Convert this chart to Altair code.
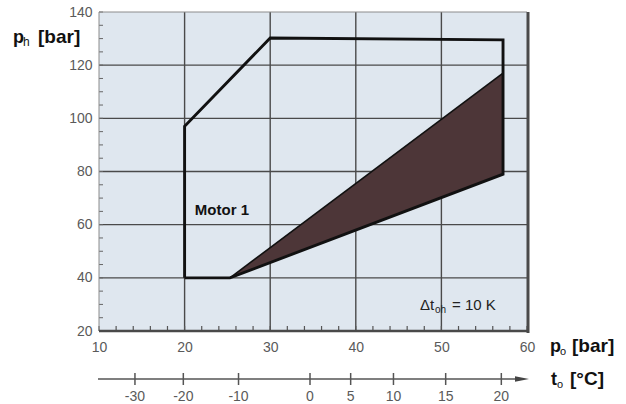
import altair as alt
import pandas as pd

# Operating envelope of Motor 1: suction pressure p_o vs. high pressure p_h (bar)
env_po = [20, 20, 30, 57.2, 57.2, 25.3, 20]
env_ph = [40, 97, 130.2, 129.5, 79, 40, 40]

# Shaded band (superheat 10 K): lower / upper high-pressure limits
band_po = [25.3, 57.2]
band_lo = [40, 79]
band_hi = [40, 117]

# Axes
x_major = [10, 20, 30, 40, 50, 60]
y_major = [20, 40, 60, 80, 100, 120, 140]
x_grid = [20, 30, 40, 50]
y_grid = [40, 60, 80, 100, 120]
x_minor = list(range(10, 61, 2))
y_minor = list(range(20, 141, 5))

# Evaporating temperature t_o (°C) and its position on the p_o scale
to_labels = ["-30", "-20", "-10", "0", "5", "10", "15", "20"]
to_po = [14.2, 19.85, 26.3, 34.65, 39.4, 44.4, 50.5, 57.0]

W, H = 428, 319
FONT = "Liberation Sans"
GRID = "#4a4a4a"
LABEL = "#5a5a5a"

xs = alt.Scale(domain=[10, 60], nice=False, zero=False)
ys = alt.Scale(domain=[20, 140], nice=False, zero=False)
xaxis = alt.Axis(values=x_major, grid=False, domain=False, ticks=False,
                 labelFont=FONT, labelFontSize=14, labelColor=LABEL,
                 labelPadding=9, labelOverlap=False, labelFlush=False, title=None)
yaxis = alt.Axis(values=y_major, grid=False, domain=False, ticks=False,
                 labelFont=FONT, labelFontSize=14, labelColor=LABEL,
                 labelPadding=7, labelOverlap=False, labelFlush=False, title=None)


def X(field="po"):
    return alt.X(f"{field}:Q", scale=xs, axis=xaxis)


def Y(field="ph"):
    return alt.Y(f"{field}:Q", scale=ys, axis=yaxis)


# grid lines
vgrid = alt.Chart(pd.DataFrame({"po": x_grid})).mark_rule(
    color=GRID, strokeWidth=1.4).encode(x=X(), y=alt.value(0), y2=alt.value(H))
hgrid = alt.Chart(pd.DataFrame({"ph": y_grid})).mark_rule(
    color=GRID, strokeWidth=1.4).encode(y=Y(), x=alt.value(0), x2=alt.value(W))

# minor ticks along the bottom and left edges
xticks = alt.Chart(pd.DataFrame({"po": x_minor})).mark_rule(
    color="#555", strokeWidth=1.2).encode(x=X(), y=alt.value(H), y2=alt.value(H - 5))
yticks = alt.Chart(pd.DataFrame({"ph": y_minor})).mark_rule(
    color="#666", strokeWidth=1).encode(y=Y(), x=alt.value(0), x2=alt.value(4))

# shaded band
band_df = pd.DataFrame({"po": band_po, "lo": band_lo, "hi": band_hi})
band = alt.Chart(band_df).mark_area(color="#4d3638", opacity=1).encode(
    x=X(), y=Y("hi"), y2="lo:Q")
band_edge = alt.Chart(band_df).mark_line(color="#111", strokeWidth=1.6).encode(
    x=X(), y=Y("hi"))

# envelope outline
env_df = pd.DataFrame({"po": env_po, "ph": env_ph, "i": range(len(env_po))})
envelope = alt.Chart(env_df).mark_line(
    color="#111", strokeWidth=2.9, strokeJoin="miter").encode(
    x=X(), y=Y(), order=alt.Order("i:Q"))

# frame of the plot area
dummy = pd.DataFrame({"a": [0]})
frame_top = alt.Chart(dummy).mark_rule(color="#8c8c8c", strokeWidth=1).encode(
    x=alt.value(0), x2=alt.value(W), y=alt.value(0))
frame_left = alt.Chart(dummy).mark_rule(color="#8c8c8c", strokeWidth=1).encode(
    x=alt.value(0), y=alt.value(0), y2=alt.value(H))
frame_right = alt.Chart(dummy).mark_rule(color="#4a4a4a", strokeWidth=3).encode(
    x=alt.value(W + 1), y=alt.value(0), y2=alt.value(H + 2))
frame_bottom = alt.Chart(dummy).mark_rule(color="#4a4a4a", strokeWidth=2.5).encode(
    x=alt.value(0), x2=alt.value(W + 2), y=alt.value(H))


def text_px(t, x, y, size, bold=False, color="#111", align="left"):
    return alt.Chart(pd.DataFrame({"t": [t]})).mark_text(
        align=align, baseline="alphabetic", font=FONT, fontSize=size,
        fontWeight="bold" if bold else "normal", color=color).encode(
        x=alt.value(x), y=alt.value(y), text="t:N")


def text_data(t, po, ph, size, bold=False, color="#111", dx=0, dy=0):
    return alt.Chart(pd.DataFrame({"t": [t], "po": [po], "ph": [ph]})).mark_text(
        align="left", baseline="alphabetic", font=FONT, fontSize=size,
        fontWeight="bold" if bold else "normal", color=color, dx=dx, dy=dy).encode(
        x=X(), y=Y(), text="t:N")


# annotations inside the plot
motor = text_data("Motor 1", 21.2, 63.6, 15, bold=True)
dt_main = text_data("\u0394t", 47.5, 27.9, 15, color="#222")
dt_sub = text_data("oh", 47.5, 27.9, 10, color="#222", dx=15, dy=3)
dt_val = text_data("= 10 K", 47.5, 27.9, 15, color="#222", dx=32)

# axis titles with subscripts
ph_title = [text_px("p", -86, 31, 18, bold=True),
            text_px("h", -76, 34, 12),
            text_px("[bar]", -61, 31, 19, bold=True)]
po_title = [text_px("p", 451, 340, 18, bold=True),
            text_px("o", 461, 343, 11),
            text_px("[bar]", 473, 340, 19, bold=True)]
to_title = [text_px("t", 452, 373, 18, bold=True),
            text_px("o", 458, 376, 11),
            text_px("[\u00b0C]", 471, 373, 19, bold=True)]

# secondary scale for evaporating temperature
AXY = 367
to_line = alt.Chart(dummy).mark_rule(color="#555", strokeWidth=1.5).encode(
    x=alt.value(-1), x2=alt.value(418), y=alt.value(AXY))
to_arrow = alt.Chart(dummy).mark_point(
    shape="M -1 -0.4 L 1 0 L -1 0.4 Z", filled=True, size=196,
    color="#444", opacity=1).encode(x=alt.value(423), y=alt.value(AXY))
to_df = pd.DataFrame({"po": to_po, "lab": to_labels})
to_ticks = alt.Chart(to_df).mark_rule(color="#555", strokeWidth=1.5).encode(
    x=X(), y=alt.value(AXY - 6), y2=alt.value(AXY + 6))
to_text = alt.Chart(to_df).mark_text(
    font=FONT, fontSize=14, color=LABEL, baseline="middle", align="center").encode(
    x=X(), y=alt.value(AXY + 18), text="lab:N")

chart = alt.layer(
    vgrid, hgrid, band, band_edge, envelope, xticks, yticks,
    frame_top, frame_left, frame_right, frame_bottom,
    motor, dt_main, dt_sub, dt_val,
    *ph_title, *po_title, *to_title,
    to_line, to_arrow, to_ticks, to_text,
).properties(
    width=W, height=H,
    autosize=alt.AutoSizeParams(type="none"),
    padding={"left": 99, "top": 12, "right": 99, "bottom": 73},
    background="white",
).configure_view(fill="#dfe7ef", stroke=None)

chart.save("out.html", embed_options={"renderer": "svg", "actions": False})
